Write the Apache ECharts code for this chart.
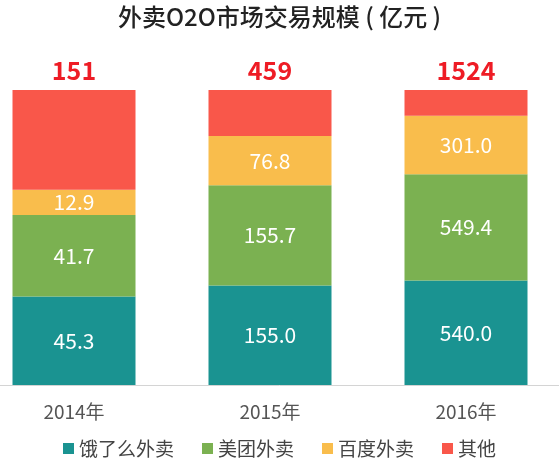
<!DOCTYPE html>
<html>
<head>
<meta charset="utf-8">
<script src="https://cdn.jsdelivr.net/npm/echarts@6/dist/echarts.min.js"></script>
<style>
html,body{margin:0;padding:0;background:#fff;}
#main{width:559px;height:463px;}
</style>
</head>
<body>
<div id="main"></div>
<script>
var years = ['2014年', '2015年', '2016年'];
var eleme = [45.3, 155.0, 540.0];
var meituan = [41.7, 155.7, 549.4];
var baidu = [12.9, 76.8, 301.0];
var others = [51.1, 71.5, 133.6];
var totals = [151, 459, 1524];

var names = ['饿了么外卖', '美团外卖', '百度外卖', '其他'];
var colors = ['#1a9391', '#7bb151', '#f9bd4c', '#f9574a'];
var groups = [eleme, meituan, baidu, others];

// 100% stacked: each segment as share of the year total
function share(arr) {
    return arr.map(function (v, i) { return v / totals[i] * 100; });
}

var series = groups.map(function (arr, k) {
    var s = {
        name: names[k],
        type: 'bar',
        stack: 'all',
        barWidth: 123,
        data: share(arr),
        itemStyle: {color: colors[k]},
        label: {
            show: true,
            color: '#fff',
            fontSize: 21,
            fontFamily: 'Noto Sans CJK SC',
            formatter: function (p) { return arr[p.dataIndex].toFixed(1); }
        }
    };
    if (k == 3) {
        s.label = {
            show: true,
            position: 'top',
            distance: 7,
            color: '#ee1c25',
            fontSize: 25,
            fontWeight: 'bold',
            fontFamily: 'Noto Sans CJK SC',
            formatter: function (p) { return totals[p.dataIndex]; }
        };
    }
    return s;
});

var chart = echarts.init(document.getElementById('main'));
chart.setOption({
    animation: false,
    title: {
        text: '外卖O2O市场交易规模 ( 亿元 )',
        left: 'center',
        top: 0,
        textStyle: {fontSize: 24, fontWeight: 500, color: '#222', fontFamily: 'Noto Sans CJK SC'}
    },
    legend: {
        data: names,
        bottom: 0,
        icon: 'rect',
        itemWidth: 11,
        itemHeight: 11,
        itemGap: 28,
        textStyle: {fontSize: 19, color: '#444', fontFamily: 'Noto Sans CJK SC'}
    },
    grid: {left: -24, width: 588, top: 90, bottom: 78, outerBoundsMode: 'none'},
    xAxis: {
        type: 'category',
        data: years,
        axisLine: {lineStyle: {color: '#d4d4d4'}},
        axisTick: {show: false},
        axisLabel: {fontSize: 19, color: '#555', margin: 17, fontFamily: 'Noto Sans CJK SC'}
    },
    yAxis: {type: 'value', min: 0, max: 100, show: false},
    series: series
});
</script>
</body>
</html>
